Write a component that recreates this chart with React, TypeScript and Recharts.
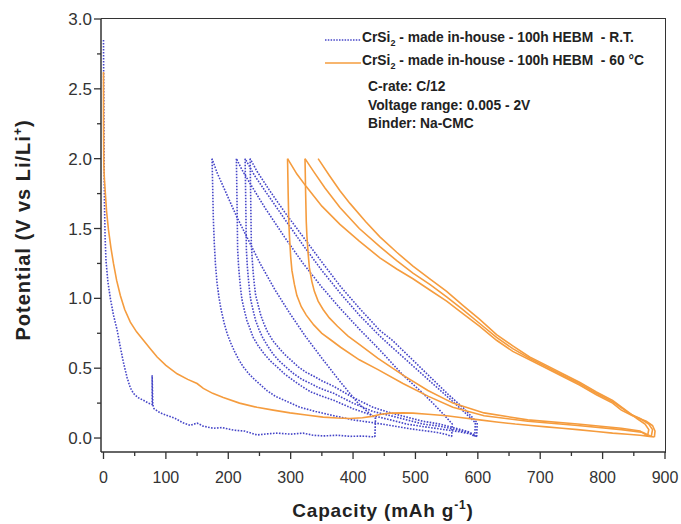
import React from 'react';
import { LineChart, Line, XAxis, YAxis } from 'recharts';

type Pair = [number, number];

// CrSi2 at room temperature (blue, dotted): discharge goes right, charge comes back left
const rtDischarge1: Pair[] = [[0, 2.85], [0.5, 2.4], [1, 1.97], [1.5, 1.7], [2.5, 1.45], [4, 1.27], [7, 1.12], [11, 1.0], [16, 0.88], [22, 0.77], [27, 0.65], [32, 0.54], [38, 0.43], [43, 0.36], [48, 0.32], [55, 0.29], [64, 0.27], [72, 0.25], [78, 0.24], [78, 0.45], [79, 0.24], [81, 0.21], [91, 0.18], [103, 0.16], [115, 0.14], [127, 0.11], [139, 0.09], [150, 0.107], [160, 0.085], [176, 0.07], [190, 0.075], [208, 0.057], [226, 0.05], [246, 0.022], [262, 0.03], [278, 0.035], [300, 0.028], [320, 0.035], [336, 0.02], [352, 0.015], [375, 0.02], [395, 0.012], [415, 0.014], [435, 0.008]];
const rtCharge1: Pair[] = [[435, 0.008], [436, 0.14], [420, 0.2], [406, 0.26], [380, 0.4], [352, 0.56], [325, 0.72], [299, 0.89], [275, 1.06], [251, 1.25], [232, 1.42], [214, 1.58], [196, 1.76], [182, 1.9], [174, 2.0]];
const rtDischarge2: Pair[] = [[174, 2.0], [175, 1.8], [176, 1.58], [177.5, 1.4], [179.5, 1.24], [182, 1.11], [185, 1.01], [188, 0.93], [193, 0.83], [198, 0.75], [204, 0.68], [210, 0.62], [217, 0.56], [224, 0.51], [233, 0.46], [242, 0.42], [252, 0.38], [262, 0.34], [275, 0.3], [290, 0.27], [315, 0.22], [340, 0.19], [369, 0.16], [400, 0.13], [432, 0.11], [460, 0.09], [486, 0.07], [510, 0.055], [535, 0.04], [550, 0.025], [558, 0.01]];
const rtCharge2: Pair[] = [[558, 0.01], [559, 0.1], [545, 0.17], [530, 0.24], [512, 0.32], [480, 0.45], [443, 0.63], [410, 0.78], [379, 0.93], [350, 1.08], [320, 1.25], [290, 1.44], [260, 1.64], [238, 1.8], [222, 1.92], [213, 2.0]];
const rtDischarge3: Pair[] = [[213, 2.0], [214, 1.7], [215, 1.35], [216.5, 1.23], [218, 1.15], [220, 1.06], [222, 0.99], [226, 0.91], [230, 0.84], [235, 0.78], [240, 0.72], [248, 0.66], [258, 0.6], [268, 0.55], [278, 0.51], [290, 0.46], [305, 0.41], [318, 0.37], [332, 0.33], [350, 0.3], [369, 0.27], [400, 0.21], [432, 0.16], [460, 0.13], [486, 0.1], [515, 0.08], [539, 0.065], [570, 0.045], [588, 0.03], [595, 0.01]];
const rtCharge3: Pair[] = [[595, 0.01], [596, 0.11], [575, 0.2], [550, 0.3], [520, 0.42], [490, 0.54], [460, 0.66], [443, 0.73], [410, 0.88], [379, 1.04], [350, 1.2], [320, 1.38], [290, 1.57], [262, 1.75], [242, 1.88], [227, 2.0]];
const rtDischarge4: Pair[] = [[227, 2.0], [228, 1.7], [229, 1.35], [230.5, 1.23], [232, 1.15], [234, 1.06], [236, 0.99], [240, 0.91], [244, 0.84], [249, 0.78], [255, 0.72], [263, 0.66], [272, 0.6], [282, 0.55], [292, 0.51], [305, 0.46], [318, 0.42], [332, 0.39], [345, 0.36], [369, 0.32], [400, 0.25], [432, 0.19], [460, 0.16], [486, 0.13], [512, 0.1], [539, 0.085], [565, 0.06], [585, 0.04], [598, 0.01]];
const rtCharge4: Pair[] = [[598, 0.01], [599, 0.11], [578, 0.21], [553, 0.31], [523, 0.44], [493, 0.57], [463, 0.7], [443, 0.77], [410, 0.93], [379, 1.09], [350, 1.26], [320, 1.44], [290, 1.62], [265, 1.78], [246, 1.91], [235, 2.0]];
const rtDischarge5: Pair[] = [[235, 2.0], [236, 1.7], [237, 1.38], [238.5, 1.27], [240, 1.18], [242, 1.09], [244, 1.02], [248, 0.95], [252, 0.88], [257, 0.82], [263, 0.76], [271, 0.7], [280, 0.65], [290, 0.6], [300, 0.56], [312, 0.51], [325, 0.47], [338, 0.44], [350, 0.41], [369, 0.37], [400, 0.29], [432, 0.22], [460, 0.18], [486, 0.15], [512, 0.12], [539, 0.1], [565, 0.07], [585, 0.045], [600, 0.01]];

// CrSi2 at 60 °C (orange, solid)
const htDischarge1: Pair[] = [[0, 2.62], [0, 2.3], [0.5, 1.95], [1.5, 1.85], [3, 1.75], [5, 1.62], [8, 1.49], [12, 1.36], [16, 1.25], [21, 1.13], [27, 1.02], [34, 0.92], [43, 0.83], [53, 0.76], [64, 0.7], [75, 0.64], [86, 0.58], [100, 0.52], [118, 0.46], [135, 0.42], [150, 0.39], [160, 0.355], [175, 0.32], [192, 0.29], [218, 0.25], [246, 0.22], [272, 0.2], [299, 0.18], [325, 0.165], [352, 0.15], [375, 0.143], [395, 0.14], [415, 0.145], [430, 0.155], [445, 0.17], [460, 0.178], [480, 0.18], [496, 0.178], [520, 0.17], [550, 0.16], [575, 0.145], [603, 0.13], [630, 0.115], [660, 0.1], [685, 0.09], [710, 0.08], [735, 0.07], [760, 0.06], [790, 0.047], [816, 0.035], [840, 0.027], [860, 0.02], [875, 0.012], [883, 0.007]];
const htCharge1: Pair[] = [[883, 0.007], [884, 0.05], [880, 0.09], [870, 0.12], [848, 0.16], [830, 0.2], [816, 0.25], [790, 0.31], [763, 0.38], [736, 0.44], [710, 0.5], [683, 0.56], [656, 0.62], [630, 0.7], [603, 0.8], [576, 0.89], [550, 0.98], [523, 1.06], [496, 1.14], [470, 1.21], [443, 1.29], [410, 1.41], [379, 1.53], [350, 1.66], [325, 1.8], [310, 1.89], [295, 2.0]];
const htDischarge2: Pair[] = [[295, 2.0], [296, 1.75], [297, 1.55], [298, 1.45], [300, 1.3], [302, 1.2], [306, 1.1], [310, 1.02], [317, 0.94], [325, 0.88], [337, 0.81], [350, 0.75], [365, 0.7], [380, 0.65], [410, 0.56], [440, 0.49], [480, 0.39], [520, 0.3], [560, 0.22], [610, 0.16], [680, 0.12], [760, 0.09], [830, 0.06], [865, 0.04], [878, 0.012]];
const htCharge2: Pair[] = [[878, 0.012], [880, 0.06], [874, 0.1], [860, 0.14], [845, 0.17], [816, 0.26], [790, 0.32], [763, 0.39], [736, 0.45], [710, 0.51], [683, 0.57], [656, 0.64], [630, 0.72], [603, 0.82], [576, 0.92], [550, 1.01], [523, 1.1], [496, 1.18], [470, 1.27], [443, 1.37], [410, 1.5], [379, 1.65], [355, 1.79], [338, 1.9], [323, 2.0]];
const htDischarge3: Pair[] = [[323, 2.0], [324, 1.75], [325, 1.55], [326, 1.45], [328, 1.32], [330, 1.22], [334, 1.12], [338, 1.05], [344, 0.98], [352, 0.92], [362, 0.86], [375, 0.8], [392, 0.73], [410, 0.67], [440, 0.57], [480, 0.45], [520, 0.34], [560, 0.25], [610, 0.18], [680, 0.13], [760, 0.1], [830, 0.07], [860, 0.05], [872, 0.015]];
const htCharge3: Pair[] = [[872, 0.015], [874, 0.06], [868, 0.1], [855, 0.14], [843, 0.18], [816, 0.27], [790, 0.33], [763, 0.4], [736, 0.46], [710, 0.52], [683, 0.58], [656, 0.66], [630, 0.74], [603, 0.85], [576, 0.95], [550, 1.05], [523, 1.14], [496, 1.23], [470, 1.33], [443, 1.44], [420, 1.55], [395, 1.68], [379, 1.77], [362, 1.88], [344, 2.0]];

const xTicks = [0, 50, 100, 150, 200, 250, 300, 350, 400, 450, 500, 550, 600, 650, 700, 750, 800, 850, 900];
const yTicks = [0, 0.25, 0.5, 0.75, 1.0, 1.25, 1.5, 1.75, 2.0, 2.25, 2.5, 2.75, 3.0];

const rtCurves = [rtDischarge1, rtCharge1, rtDischarge2, rtCharge2, rtDischarge3, rtCharge3, rtDischarge4, rtCharge4, rtDischarge5];
const htCurves = [htDischarge1, htCharge1, htDischarge2, htCharge2, htDischarge3, htCharge3];

const toPoints = (c: Pair[]) => c.map(([x, y]) => ({ x, y }));

const BLUE = '#4646c8';
const ORANGE = '#f59c3e';
const FONT = '"Liberation Sans", Arial, Helvetica, sans-serif';

const XTick = (props: any) => {
  const { x, y, payload } = props;
  const major = payload.value % 100 === 0;
  return (
    <g>
      <line x1={x} x2={x} y1={y} y2={y + (major ? 7 : 4)} stroke="#333" strokeWidth={1.3} />
      {major && (
        <text x={x} y={y + 31} textAnchor="middle" fontSize={16} fill="#333" fontFamily={FONT}>
          {payload.value}
        </text>
      )}
    </g>
  );
};

const YTick = (props: any) => {
  const { x, y, payload } = props;
  const major = Math.abs(payload.value * 2 - Math.round(payload.value * 2)) < 1e-6;
  return (
    <g>
      <line x1={x - (major ? 7 : 4)} x2={x} y1={y} y2={y} stroke="#333" strokeWidth={1.3} />
      {major && (
        <text x={x - 9} y={y + 6} textAnchor="end" fontSize={17} fill="#333" fontFamily={FONT}>
          {payload.value.toFixed(1)}
        </text>
      )}
    </g>
  );
};

const App: React.FC = () => {
  return (
    <div style={{ position: 'absolute', left: 0, top: 0, width: 681, height: 524, background: '#fff', fontFamily: FONT }}>
      <LineChart width={681} height={524} margin={{ top: 19, right: 16, bottom: 0, left: 0 }}>
        <XAxis
          type="number"
          dataKey="x"
          domain={[-4, 900]}
          ticks={xTicks}
          allowDataOverflow
          height={72}
          tickSize={0}
          tickMargin={0}
          tickLine={false}
          tick={<XTick />}
          axisLine={{ stroke: '#333', strokeWidth: 1.5 }}
          interval={0}
        />
        <YAxis
          type="number"
          dataKey="y"
          domain={[-0.1, 3.0]}
          ticks={yTicks}
          allowDataOverflow
          width={101}
          tickSize={0}
          tickMargin={0}
          tickLine={false}
          tick={<YTick />}
          axisLine={{ stroke: '#333', strokeWidth: 1.5 }}
          interval={0}
        />
        {rtCurves.map((c, i) => (
          <Line
            key={'rt' + i}
            data={toPoints(c)}
            dataKey="y"
            type="linear"
            stroke={BLUE}
            strokeWidth={1.6}
            strokeDasharray="1.6 1.4"
            dot={false}
            isAnimationActive={false}
          />
        ))}
        {htCurves.map((c, i) => (
          <Line
            key={'ht' + i}
            data={toPoints(c)}
            dataKey="y"
            type="linear"
            stroke={ORANGE}
            strokeWidth={1.6}
            dot={false}
            isAnimationActive={false}
          />
        ))}
      </LineChart>

      {/* top and right edges of the frame */}
      <div style={{ position: 'absolute', left: 101, top: 18, width: 564, height: 434, borderTop: '1.5px solid #333', borderRight: '1.5px solid #333', pointerEvents: 'none' }} />

      {/* legend + notes */}
      <div style={{ position: 'absolute', left: 325, top: 31, fontSize: 13.8, fontWeight: 'bold', color: '#222', lineHeight: '16px', whiteSpace: 'nowrap' }}>
        <div style={{ display: 'flex', alignItems: 'center', height: 18 }}>
          <svg width={36} height={6}><line x1={0} x2={36} y1={3} y2={3} stroke={BLUE} strokeWidth={1.5} strokeDasharray="1.5 1.3" /></svg>
          <span style={{ marginLeft: 1 }}>CrSi<sub style={{ fontSize: 9 }}>2</sub> - made in-house - 100h HEBM&nbsp; - R.T.</span>
        </div>
        <div style={{ display: 'flex', alignItems: 'center', height: 18, marginTop: 5 }}>
          <svg width={36} height={6}><line x1={0} x2={36} y1={3} y2={3} stroke={ORANGE} strokeWidth={1.6} /></svg>
          <span style={{ marginLeft: 1 }}>CrSi<sub style={{ fontSize: 9 }}>2</sub> - made in-house - 100h HEBM&nbsp; - 60 °C</span>
        </div>
        <div style={{ marginLeft: 43, marginTop: 6, lineHeight: '18.5px' }}>
          <div>C-rate: C/12</div>
          <div>Voltage range: 0.005 - 2V</div>
          <div>Binder: Na-CMC</div>
        </div>
      </div>

      {/* axis titles */}
      <div style={{ position: 'absolute', left: 23, top: 230, transform: 'translate(-50%, -50%) rotate(-90deg)', whiteSpace: 'nowrap', fontSize: 20, letterSpacing: 1, fontWeight: 'bold', color: '#222' }}>
        Potential (V vs Li/Li<sup style={{ fontSize: 12 }}>+</sup>)
      </div>
      <div style={{ position: 'absolute', left: 383, top: 510, transform: 'translate(-50%, -50%)', whiteSpace: 'nowrap', fontSize: 19, letterSpacing: 0.8, fontWeight: 'bold', color: '#222' }}>
        Capacity (mAh g<sup style={{ fontSize: 12 }}>-1</sup>)
      </div>
    </div>
  );
};

export default App;
